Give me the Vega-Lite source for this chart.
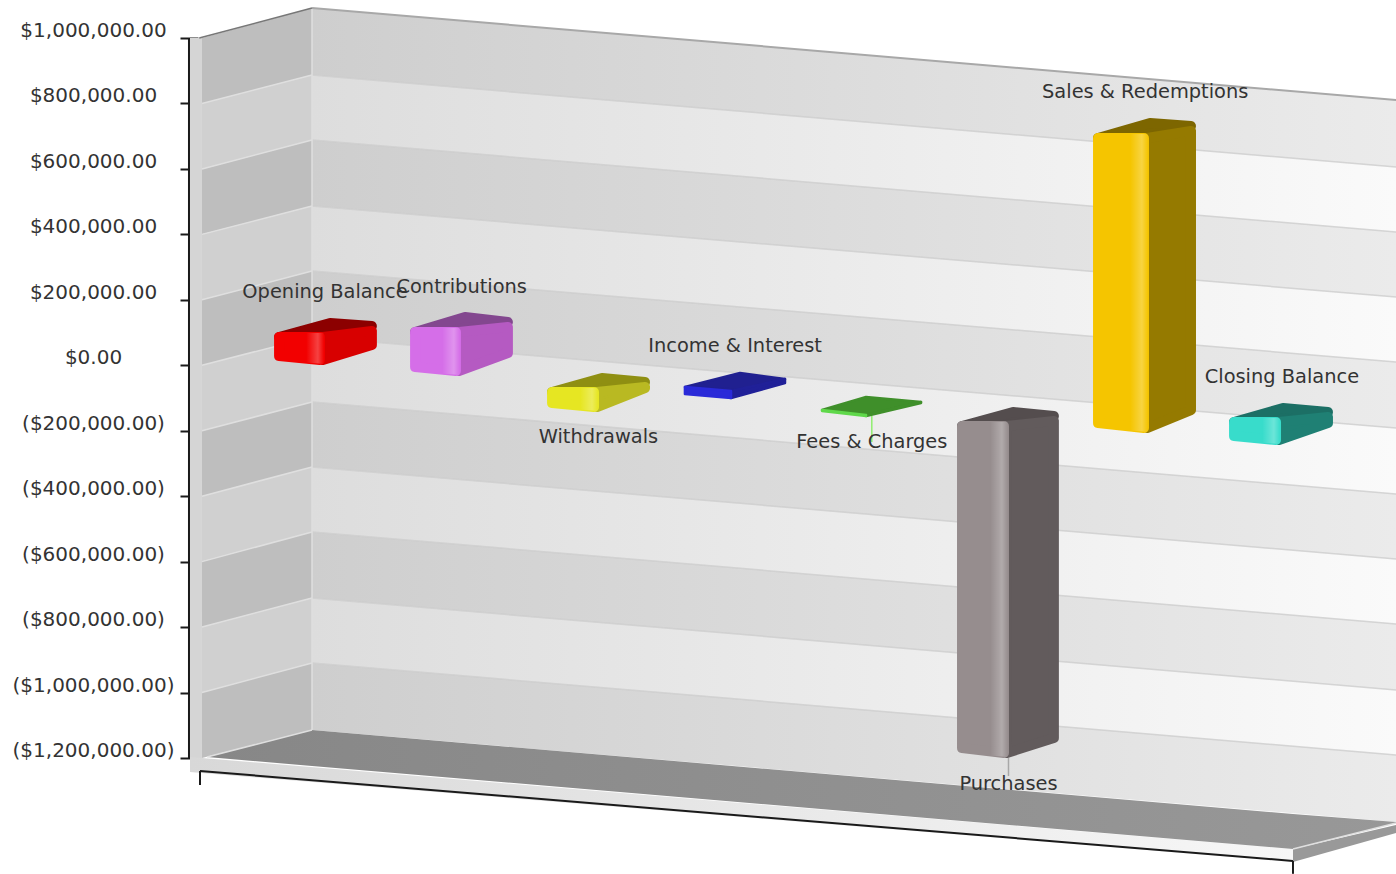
{"$schema":"https://vega.github.io/schema/vega-lite/v6.json","width":1396,"height":874,"autosize":"none","padding":0,"background":"white","config":{"view":{"stroke":null}},
"datasets":{
"side":[
{"band":1,"shade":"dark","k":0.1,"v":1000000,"v2":800000},{"band":1,"shade":"dark","k":0.905,"v":1091700,"v2":887000},
{"band":2,"shade":"light","k":0.1,"v":800000,"v2":600000},{"band":2,"shade":"light","k":0.905,"v":887000,"v2":688400},
{"band":3,"shade":"dark","k":0.1,"v":600000,"v2":400000},{"band":3,"shade":"dark","k":0.905,"v":688400,"v2":486700},
{"band":4,"shade":"light","k":0.1,"v":400000,"v2":200000},{"band":4,"shade":"light","k":0.905,"v":486700,"v2":288100},
{"band":5,"shade":"dark","k":0.1,"v":200000,"v2":0},{"band":5,"shade":"dark","k":0.905,"v":288100,"v2":86400},
{"band":6,"shade":"light","k":0.1,"v":0,"v2":-200000},{"band":6,"shade":"light","k":0.905,"v":86400,"v2":-112200},
{"band":7,"shade":"dark","k":0.1,"v":-200000,"v2":-400000},{"band":7,"shade":"dark","k":0.905,"v":-112200,"v2":-310900},
{"band":8,"shade":"light","k":0.1,"v":-400000,"v2":-600000},{"band":8,"shade":"light","k":0.905,"v":-310900,"v2":-509500},
{"band":9,"shade":"dark","k":0.1,"v":-600000,"v2":-800000},{"band":9,"shade":"dark","k":0.905,"v":-509500,"v2":-711200},
{"band":10,"shade":"light","k":0.1,"v":-800000,"v2":-1000000},{"band":10,"shade":"light","k":0.905,"v":-711200,"v2":-909800},
{"band":11,"shade":"dark","k":0.1,"v":-1000000,"v2":-1200000},{"band":11,"shade":"dark","k":0.905,"v":-909800,"v2":-1114500}],
"back":[
{"band":1,"shade":"dark","k":0.905,"v":1091700,"v2":887000},{"band":1,"shade":"dark","k":8.835,"v":810600,"v2":605900},
{"band":2,"shade":"light","k":0.905,"v":887000,"v2":688400},{"band":2,"shade":"light","k":8.835,"v":605900,"v2":407200},
{"band":3,"shade":"dark","k":0.905,"v":688400,"v2":486700},{"band":3,"shade":"dark","k":8.835,"v":407200,"v2":208600},
{"band":4,"shade":"light","k":0.905,"v":486700,"v2":288100},{"band":4,"shade":"light","k":8.835,"v":208600,"v2":10000},
{"band":5,"shade":"dark","k":0.905,"v":288100,"v2":86400},{"band":5,"shade":"dark","k":8.835,"v":10000,"v2":-191700},
{"band":6,"shade":"light","k":0.905,"v":86400,"v2":-112200},{"band":6,"shade":"light","k":8.835,"v":-191700,"v2":-393400},
{"band":7,"shade":"dark","k":0.905,"v":-112200,"v2":-310900},{"band":7,"shade":"dark","k":8.835,"v":-393400,"v2":-592000},
{"band":8,"shade":"light","k":0.905,"v":-310900,"v2":-509500},{"band":8,"shade":"light","k":8.835,"v":-592000,"v2":-790600},
{"band":9,"shade":"dark","k":0.905,"v":-509500,"v2":-711200},{"band":9,"shade":"dark","k":8.835,"v":-790600,"v2":-992300},
{"band":10,"shade":"light","k":0.905,"v":-711200,"v2":-909800},{"band":10,"shade":"light","k":8.835,"v":-992300,"v2":-1190900},
{"band":11,"shade":"dark","k":0.905,"v":-909800,"v2":-1114500},{"band":11,"shade":"dark","k":8.835,"v":-1190900,"v2":-1395700}],
"bars":[
{"name":"Opening Balance","face":"front","part":"Opening Balance front","k":0.664,"v":86400,"v2":28300},{"name":"Opening Balance","face":"front","part":"Opening Balance front","k":0.963,"v":86400,"v2":16100},
{"name":"Opening Balance","face":"side","part":"Opening Balance side","k":0.985,"v":86400,"v2":16100},{"name":"Opening Balance","face":"side","part":"Opening Balance side","k":1.343,"v":105000,"v2":61900},
{"name":"Opening Balance","face":"top","part":"Opening Balance top","k":0.664,"v":86400,"v2":86400},{"name":"Opening Balance","face":"top","part":"Opening Balance top","k":1.037,"v":129200,"v2":90000},{"name":"Opening Balance","face":"top","part":"Opening Balance top","k":1.343,"v":120000,"v2":120000},
{"name":"Contributions","face":"front","part":"Contributions front","k":1.659,"v":101700,"v2":-5300},{"name":"Contributions","face":"front","part":"Contributions front","k":1.958,"v":101700,"v2":-17500},
{"name":"Contributions","face":"side","part":"Contributions side","k":1.98,"v":101700,"v2":-17500},{"name":"Contributions","face":"side","part":"Contributions side","k":2.338,"v":117200,"v2":37500},
{"name":"Contributions","face":"top","part":"Contributions top","k":1.659,"v":101700,"v2":101700},{"name":"Contributions","face":"top","part":"Contributions top","k":2.024,"v":147500,"v2":105000},{"name":"Contributions","face":"top","part":"Contributions top","k":2.338,"v":132200,"v2":132200},
{"name":"Withdrawals","face":"front","part":"Withdrawals front","k":2.661,"v":-81700,"v2":-115300},{"name":"Withdrawals","face":"front","part":"Withdrawals front","k":2.968,"v":-81700,"v2":-127500},
{"name":"Withdrawals","face":"side","part":"Withdrawals side","k":2.99,"v":-81700,"v2":-127500},{"name":"Withdrawals","face":"side","part":"Withdrawals side","k":3.341,"v":-66100,"v2":-69500},
{"name":"Withdrawals","face":"top","part":"Withdrawals top","k":2.661,"v":-81700,"v2":-81700},{"name":"Withdrawals","face":"top","part":"Withdrawals top","k":3.026,"v":-38900,"v2":-78000},{"name":"Withdrawals","face":"top","part":"Withdrawals top","k":3.341,"v":-51100,"v2":-51100},
{"name":"Income & Interest","face":"front","part":"Income & Interest front","k":3.633,"v":-66400,"v2":-87800},{"name":"Income & Interest","face":"front","part":"Income & Interest front","k":3.97,"v":-78600,"v2":-100000},
{"name":"Income & Interest","face":"side","part":"Income & Interest side","k":3.97,"v":-78600,"v2":-100000},{"name":"Income & Interest","face":"side","part":"Income & Interest side","k":4.365,"v":-42000,"v2":-54200},
{"name":"Income & Interest","face":"top","part":"Income & Interest top","k":3.633,"v":-66400,"v2":-66400},{"name":"Income & Interest","face":"top","part":"Income & Interest top","k":4.036,"v":-23600,"v2":-75000},{"name":"Income & Interest","face":"top","part":"Income & Interest top","k":4.365,"v":-42000,"v2":-42000},
{"name":"Fees & Charges","face":"front","part":"Fees & Charges front","k":4.636,"v":-136700,"v2":-139700},{"name":"Fees & Charges","face":"front","part":"Fees & Charges front","k":4.958,"v":-152000,"v2":-155000},
{"name":"Fees & Charges","face":"side","part":"Fees & Charges side","k":4.958,"v":-152000,"v2":-155000},{"name":"Fees & Charges","face":"side","part":"Fees & Charges side","k":5.36,"v":-112200,"v2":-115300},
{"name":"Fees & Charges","face":"top","part":"Fees & Charges top","k":4.636,"v":-136700,"v2":-136700},{"name":"Fees & Charges","face":"top","part":"Fees & Charges top","k":4.958,"v":-97000,"v2":-152000},{"name":"Fees & Charges","face":"top","part":"Fees & Charges top","k":5.36,"v":-112200,"v2":-112200},
{"name":"Purchases","face":"front","part":"Purchases front","k":5.66,"v":-185600,"v2":-1169500},{"name":"Purchases","face":"front","part":"Purchases front","k":5.967,"v":-185600,"v2":-1184800},
{"name":"Purchases","face":"side","part":"Purchases side","k":5.989,"v":-185600,"v2":-1184800},{"name":"Purchases","face":"side","part":"Purchases side","k":6.332,"v":-170000,"v2":-1139000},
{"name":"Purchases","face":"top","part":"Purchases top","k":5.66,"v":-185600,"v2":-185600},{"name":"Purchases","face":"top","part":"Purchases top","k":6.033,"v":-142800,"v2":-182000},{"name":"Purchases","face":"top","part":"Purchases top","k":6.332,"v":-155000,"v2":-155000},
{"name":"Sales & Redemptions","face":"front","part":"Sales & Redemptions front","k":6.655,"v":694500,"v2":-176400},{"name":"Sales & Redemptions","face":"front","part":"Sales & Redemptions front","k":6.991,"v":694500,"v2":-191700},
{"name":"Sales & Redemptions","face":"side","part":"Sales & Redemptions side","k":7.013,"v":694500,"v2":-191700},{"name":"Sales & Redemptions","face":"side","part":"Sales & Redemptions side","k":7.335,"v":716200,"v2":-136700},
{"name":"Sales & Redemptions","face":"top","part":"Sales & Redemptions top","k":6.655,"v":694500,"v2":694500},{"name":"Sales & Redemptions","face":"top","part":"Sales & Redemptions top","k":7.035,"v":740300,"v2":697000},{"name":"Sales & Redemptions","face":"top","part":"Sales & Redemptions top","k":7.335,"v":731200,"v2":731200},
{"name":"Closing Balance","face":"front","part":"Closing Balance front","k":7.65,"v":-173300,"v2":-216100},{"name":"Closing Balance","face":"front","part":"Closing Balance front","k":7.957,"v":-173300,"v2":-228400},
{"name":"Closing Balance","face":"side","part":"Closing Balance side","k":7.979,"v":-173300,"v2":-228400},{"name":"Closing Balance","face":"side","part":"Closing Balance side","k":8.337,"v":-157800,"v2":-176400},
{"name":"Closing Balance","face":"top","part":"Closing Balance top","k":7.65,"v":-173300,"v2":-173300},{"name":"Closing Balance","face":"top","part":"Closing Balance top","k":8.008,"v":-130600,"v2":-170000},{"name":"Closing Balance","face":"top","part":"Closing Balance top","k":8.337,"v":-142800,"v2":-142800}],
"shine":[
{"name":"Opening Balance","k":0.863,"v":98400,"v2":8100},{"name":"Opening Balance","k":0.993,"v":98400,"v2":4100},
{"name":"Contributions","k":1.858,"v":113700,"v2":-25500},{"name":"Contributions","k":1.988,"v":113700,"v2":-29500},
{"name":"Withdrawals","k":2.868,"v":-69700,"v2":-135500},{"name":"Withdrawals","k":2.998,"v":-69700,"v2":-139500},
{"name":"Purchases","k":5.867,"v":-173600,"v2":-1192800},{"name":"Purchases","k":5.997,"v":-173600,"v2":-1196800},
{"name":"Sales & Redemptions","k":6.891,"v":706500,"v2":-199700},{"name":"Sales & Redemptions","k":7.021,"v":706500,"v2":-203700},
{"name":"Closing Balance","k":7.857,"v":-161300,"v2":-236400},{"name":"Closing Balance","k":7.987,"v":-161300,"v2":-240400}],
"labels":[
{"name":"Opening Balance","k":1,"v":223900},{"name":"Contributions","k":2,"v":239200},{"name":"Withdrawals","k":3,"v":-219200},{"name":"Income & Interest","k":4,"v":58900},{"name":"Fees & Charges","k":5,"v":-234500},{"name":"Purchases","k":6,"v":-1279600},{"name":"Sales & Redemptions","k":7,"v":835000},{"name":"Closing Balance","k":8,"v":-35800}]
},
"encoding":{
"x":{"field":"k","type":"quantitative","axis":null,"scale":{"domain":[-1.3775,8.8347],"nice":false,"zero":false}},
"y":{"field":"v","type":"quantitative","title":null,"stack":null,"scale":{"domain":[-1554562,1116181],"nice":false,"zero":false},
"axis":{"values":[1000000,800000,600000,400000,200000,0,-200000,-400000,-600000,-800000,-1000000,-1200000],"format":"($,.2f","offset":-198,"domain":false,"grid":false,"tickSize":18,"tickColor":"#1a1a1a","tickWidth":2,"labelAlign":"center","labelBaseline":"middle","labelPadding":87,"labelOffset":-7.5,"labelFont":"DejaVu Sans","labelFontSize":20,"labelColor":"#333333","labelBound":false,"labelFlush":false,"labelOverlap":false}}
},
"layer":[
{"data":{"values":[{"k":0.0124,"v":1000000,"v2":-1242900},{"k":0.1,"v":1000000,"v2":-1242900}]},"mark":{"type":"area","orient":"vertical","color":"#d5d5d5"},"encoding":{"y2":{"field":"v2"}}},
{"data":{"name":"side"},"transform":[{"filter":"datum.shade==='dark'"}],"mark":{"type":"area","orient":"vertical","color":"#bebebe"},"encoding":{"detail":{"field":"band"},"y2":{"field":"v2"}}},
{"data":{"name":"side"},"transform":[{"filter":"datum.shade==='light'"}],"mark":{"type":"area","orient":"vertical","color":"#d0d0d0"},"encoding":{"detail":{"field":"band"},"y2":{"field":"v2"}}},
{"data":{"name":"back"},"transform":[{"filter":"datum.shade==='dark'"}],"mark":{"type":"area","orient":"vertical","color":{"gradient":"linear","x1":0,"x2":1,"y1":0,"y2":0,"stops":[{"offset":0,"color":"#cecece"},{"offset":1,"color":"#ebebeb"}]}},"encoding":{"detail":{"field":"band"},"y2":{"field":"v2"}}},
{"data":{"name":"back"},"transform":[{"filter":"datum.shade==='light'"}],"mark":{"type":"area","orient":"vertical","color":{"gradient":"linear","x1":0,"x2":1,"y1":0,"y2":0,"stops":[{"offset":0,"color":"#dddddd"},{"offset":1,"color":"#fafafa"}]}},"encoding":{"detail":{"field":"band"},"y2":{"field":"v2"}}},
{"data":{"values":[{"k":0.0124,"v":-1197000,"v2":-1242900},{"k":8.081,"v":-1478200,"v2":-1517900}]},"mark":{"type":"area","orient":"vertical","color":{"gradient":"linear","x1":0,"x2":1,"y1":0,"y2":0,"stops":[{"offset":0,"color":"#d8d8d8"},{"offset":1,"color":"#f7f7f7"}]}},"encoding":{"y2":{"field":"v2"}}},
{"data":{"values":[{"k":0.137,"v":-1197000,"v2":-1197000},{"k":0.905,"v":-1114500,"v2":-1224600},{"k":8.081,"v":-1371200,"v2":-1478200},{"k":8.835,"v":-1395700,"v2":-1398700}]},"mark":{"type":"area","orient":"vertical","color":{"gradient":"linear","x1":0,"x2":1,"y1":0,"y2":0,"stops":[{"offset":0,"color":"#878787"},{"offset":1,"color":"#989898"}]}},"encoding":{"y2":{"field":"v2"}}},
{"data":{"values":[{"k":8.081,"v":-1478200,"v2":-1517900},{"k":8.835,"v":-1404800,"v2":-1429300}]},"mark":{"type":"area","orient":"vertical","color":"#999999"},"encoding":{"y2":{"field":"v2"}}},
{"data":{"values":[{"k":0.905,"v":887000,"k2":8.835,"v2":605900},{"k":0.905,"v":688400,"k2":8.835,"v2":407200},{"k":0.905,"v":486700,"k2":8.835,"v2":208600},{"k":0.905,"v":288100,"k2":8.835,"v2":10000},{"k":0.905,"v":86400,"k2":8.835,"v2":-191700},{"k":0.905,"v":-112200,"k2":8.835,"v2":-393400},{"k":0.905,"v":-310900,"k2":8.835,"v2":-592000},{"k":0.905,"v":-509500,"k2":8.835,"v2":-790600},{"k":0.905,"v":-711200,"k2":8.835,"v2":-992300},{"k":0.905,"v":-909800,"k2":8.835,"v2":-1190900}]},"mark":{"type":"rule","color":"#cccccc","strokeWidth":1.5,"opacity":0.8},"encoding":{"x2":{"field":"k2"},"y2":{"field":"v2"}}},
{"data":{"values":[{"k":0.1,"v":800000,"k2":0.905,"v2":887000},{"k":0.1,"v":600000,"k2":0.905,"v2":688400},{"k":0.1,"v":400000,"k2":0.905,"v2":486700},{"k":0.1,"v":200000,"k2":0.905,"v2":288100},{"k":0.1,"v":0,"k2":0.905,"v2":86400},{"k":0.1,"v":-200000,"k2":0.905,"v2":-112200},{"k":0.1,"v":-400000,"k2":0.905,"v2":-310900},{"k":0.1,"v":-600000,"k2":0.905,"v2":-509500},{"k":0.1,"v":-800000,"k2":0.905,"v2":-711200},{"k":0.1,"v":-1000000,"k2":0.905,"v2":-909800},{"k":0.137,"v":-1197000,"k2":0.905,"v2":-1114500},{"k":0.905,"v":1091700,"k2":0.905,"v2":-1114500},{"k":8.081,"v":-1478200,"k2":8.835,"v2":-1398700}]},"mark":{"type":"rule","color":"#dfdfdf","strokeWidth":1.5},"encoding":{"x2":{"field":"k2"},"y2":{"field":"v2"}}},
{"data":{"values":[{"k":0.905,"v":1091700,"k2":8.835,"v2":810600}]},"mark":{"type":"rule","color":"#a8a8a8","strokeWidth":2},"encoding":{"x2":{"field":"k2"},"y2":{"field":"v2"}}},
{"data":{"values":[{"k":0.08,"v":1000000,"k2":0.905,"v2":1091700}]},"mark":{"type":"rule","color":"#777777","strokeWidth":1.5},"encoding":{"x2":{"field":"k2"},"y2":{"field":"v2"}}},
{"data":{"values":[{"k":0.005,"v":1000000,"k2":0.005,"v2":-1200000},{"k":0.0856,"v":-1282600,"k2":0.0856,"v2":-1239800},{"k":0.0856,"v":-1239800,"k2":8.081,"v2":-1514800},{"k":8.081,"v":-1514800,"k2":8.081,"v2":-1554000}]},"mark":{"type":"rule","color":"#1a1a1a","strokeWidth":2},"encoding":{"x2":{"field":"k2"},"y2":{"field":"v2"}}},
{"data":{"values":[{"k":5,"v":-155000,"k2":5,"v2":-234500}]},"mark":{"type":"rule","color":"#90ee70","strokeWidth":1.5},"encoding":{"y2":{"field":"v2"}}},
{"data":{"values":[{"k":6,"v":-1200100,"k2":6,"v2":-1255100}]},"mark":{"type":"rule","color":"#a8a8a8","strokeWidth":1.5},"encoding":{"y2":{"field":"v2"}}},
{"data":{"name":"bars"},
"encoding":{"y2":{"field":"v2"},"detail":{"field":"name"},
"fill":{"field":"part","type":"nominal","legend":null,"scale":{"domain":["Opening Balance front","Opening Balance side","Opening Balance top","Contributions front","Contributions side","Contributions top","Withdrawals front","Withdrawals side","Withdrawals top","Income & Interest front","Income & Interest side","Income & Interest top","Fees & Charges front","Fees & Charges side","Fees & Charges top","Purchases front","Purchases side","Purchases top","Sales & Redemptions front","Sales & Redemptions side","Sales & Redemptions top","Closing Balance front","Closing Balance side","Closing Balance top"],"range":["#f20000","#d80000","#8c0000","#d56ee8","#b55ac2","#83478f","#e6e622","#b9b922","#8f8f12","#2a2ad8","#202098","#202090","#5fd84a","#3f8f2a","#3f8f2a","#968d8e","#625b5c","#544d4e","#f5c500","#957a00","#7d6600","#38dccb","#1f8074","#1c6f65"]}},
"stroke":{"field":"part","type":"nominal","legend":null,"scale":{"domain":["Opening Balance front","Opening Balance side","Opening Balance top","Contributions front","Contributions side","Contributions top","Withdrawals front","Withdrawals side","Withdrawals top","Income & Interest front","Income & Interest side","Income & Interest top","Fees & Charges front","Fees & Charges side","Fees & Charges top","Purchases front","Purchases side","Purchases top","Sales & Redemptions front","Sales & Redemptions side","Sales & Redemptions top","Closing Balance front","Closing Balance side","Closing Balance top"],"range":["#f20000","#d80000","#8c0000","#d56ee8","#b55ac2","#83478f","#e6e622","#b9b922","#8f8f12","#2a2ad8","#202098","#202090","#5fd84a","#3f8f2a","#3f8f2a","#968d8e","#625b5c","#544d4e","#f5c500","#957a00","#7d6600","#38dccb","#1f8074","#1c6f65"]}},
"strokeWidth":{"condition":{"test":"datum.name==='Fees & Charges'||datum.name==='Income & Interest'","value":2.5},"value":10}},
"layer":[
{"transform":[{"filter":"datum.face==='top'"}],"mark":{"type":"area","orient":"vertical","strokeJoin":"round"}},
{"transform":[{"filter":"datum.face==='side'"}],"mark":{"type":"area","orient":"vertical","strokeJoin":"round"}},
{"transform":[{"filter":"datum.face==='front'"}],"mark":{"type":"area","orient":"vertical","strokeJoin":"round"}}
]},
{"data":{"name":"shine"},"mark":{"type":"area","orient":"vertical","color":{"gradient":"linear","x1":0,"x2":1,"y1":0,"y2":0,"stops":[{"offset":0,"color":"rgba(255,255,255,0)"},{"offset":0.65,"color":"rgba(255,255,255,0.26)"},{"offset":1,"color":"rgba(255,255,255,0)"}]}},"encoding":{"y2":{"field":"v2"},"detail":{"field":"name"}}},
{"data":{"name":"labels"},"mark":{"type":"text","font":"DejaVu Sans","fontSize":19.4,"color":"#333333","align":"center","baseline":"middle"},"encoding":{"text":{"field":"name"}}}
]}
